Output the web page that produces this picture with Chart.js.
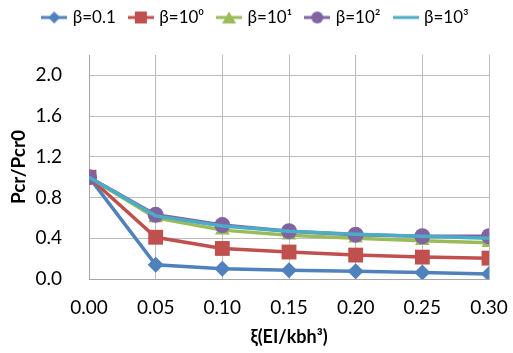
<!DOCTYPE html>
<html><head><meta charset="utf-8">
<script src="https://cdn.jsdelivr.net/npm/chart.js@4"></script>
<style>html,body{margin:0;padding:0;background:#fff;overflow:hidden}#w{width:513px;height:353px;position:relative}canvas{display:block}</style>
</head><body><div id="w"><canvas id="c"></canvas></div>
<script>
const xValues = [0.00, 0.05, 0.10, 0.15, 0.20, 0.25, 0.30];
const seriesNames = ['β=0.1', 'β=10⁰', 'β=10¹', 'β=10²', 'β=10³'];
const beta01 = [1.00, 0.14, 0.10, 0.085, 0.075, 0.065, 0.05];
const beta1 = [1.00, 0.41, 0.30, 0.265, 0.235, 0.215, 0.205];
const beta10 = [1.00, 0.60, 0.48, 0.43, 0.40, 0.375, 0.355];
const beta100 = [1.00, 0.63, 0.53, 0.47, 0.435, 0.42, 0.42];
const beta1000 = [1.00, 0.62, 0.52, 0.47, 0.44, 0.42, 0.40];
const yTicks = [0.0, 0.4, 0.8, 1.2, 1.6, 2.0];
const xTicks = [0.00, 0.05, 0.10, 0.15, 0.20, 0.25, 0.30];

const colors = ['#4F81BD', '#C0504D', '#9BBB59', '#8064A2', '#4BACC6'];
const styles = ['rectRot', 'rect', 'triangle', 'circle', false];
const radii = [8, 10.5, 8.5, 8, 0];
const series = [beta01, beta1, beta10, beta100, beta1000];

function legendIcon(i) {
  const cv = document.createElement('canvas');
  cv.width = 26; cv.height = 14;
  const g = cv.getContext('2d');
  g.strokeStyle = colors[i]; g.lineWidth = 3;
  g.beginPath(); g.moveTo(0, 7); g.lineTo(26, 7); g.stroke();
  g.fillStyle = colors[i];
  g.beginPath();
  if (i === 0) { g.moveTo(13, 1); g.lineTo(19, 7); g.lineTo(13, 13); g.lineTo(7, 7); }
  else if (i === 1) { g.rect(7, 1, 12, 12); }
  else if (i === 2) { g.moveTo(13, 1); g.lineTo(20, 13); g.lineTo(6, 13); }
  else if (i === 3) { g.arc(13, 7, 6, 0, Math.PI * 2); }
  g.fill();
  return cv;
}

const datasets = series.map((s, i) => ({
  label: seriesNames[i],
  data: xValues.map((x, k) => ({x: x, y: s[k]})),
  borderColor: colors[i],
  backgroundColor: colors[i],
  borderWidth: 3.5,
  pointStyle: styles[i],
  pointRadius: radii[i],
  pointBorderWidth: 0,
  pointBackgroundColor: colors[i],
  tension: 0,
  order: 5 - i
}));

const icons = colors.map((c, i) => legendIcon(i));
const font = "Lato, 'Open Sans', sans-serif";
const LEGEND_DY = -6;

const legendAdjust = {
  id: 'legendAdjust',
  beforeLayout(chart) {
    const lg = chart.legend;
    if (!lg || lg._patched) return;
    lg._patched = true;
    const fit = lg.fit;
    lg.fit = function () { fit.call(this); this.height = 55; };
    const draw = lg.draw;
    lg.draw = function () {
      const ctx = this.ctx;
      ctx.save(); ctx.translate(0, LEGEND_DY);
      draw.call(this);
      ctx.restore();
    };
  }
};

new Chart(document.getElementById('c'), {
  type: 'line',
  data: { datasets: datasets },
  plugins: [legendAdjust],
  options: {
    responsive: true, maintainAspectRatio: false, animation: false,
    layout: { padding: 0 },
    plugins: {
      legend: {
        position: 'top',
        labels: {
          font: { family: font, size: 17 }, color: '#000',
          usePointStyle: true, pointStyleWidth: 20, boxHeight: 14, padding: 15,
          generateLabels: (chart) => chart.data.datasets.map((d, i) => ({
            text: d.label, pointStyle: icons[i], datasetIndex: i,
            fillStyle: colors[i], strokeStyle: colors[i], lineWidth: 0, fontColor: '#000'
          }))
        }
      },
      tooltip: { enabled: false }
    },
    scales: {
      x: {
        type: 'linear', min: 0, max: 0.3,
        afterBuildTicks: (ax) => { ax.ticks = xTicks.map(v => ({value: v})); },
        afterFit: (s) => { s.height = 74; s.paddingLeft = 0; s.paddingRight = 24; },
        ticks: { callback: v => Number(v).toFixed(2), font: { family: font, size: 19 }, color: '#000', padding: 17, maxRotation: 0 },
        grid: { color: '#BDBDBD', lineWidth: 1, drawTicks: false },
        border: { color: '#A6A6A6', width: 1 },
        title: { display: true, text: 'ξ(EI/kbh³)', font: { family: font, size: 18, weight: 'bold' }, color: '#000', padding: { top: 0, bottom: 5 } }
      },
      y: {
        min: 0, max: 2.2,
        afterBuildTicks: (ax) => { ax.ticks = yTicks.map(v => ({value: v})); },
        afterFit: (s) => { s.width = 89; s.paddingTop = 0; s.paddingBottom = 0; },
        ticks: { callback: v => Number(v).toFixed(1), font: { family: font, size: 19 }, color: '#000', padding: 27 },
        grid: { color: '#BDBDBD', lineWidth: 1, drawTicks: false },
        border: { color: '#A6A6A6', width: 1 },
        title: { display: true, text: 'Pcr/Pcr0', font: { family: font, size: 19, weight: 'bold' }, color: '#000', padding: { top: 7, bottom: 0 } }
      }
    }
  }
});
</script></body></html>
